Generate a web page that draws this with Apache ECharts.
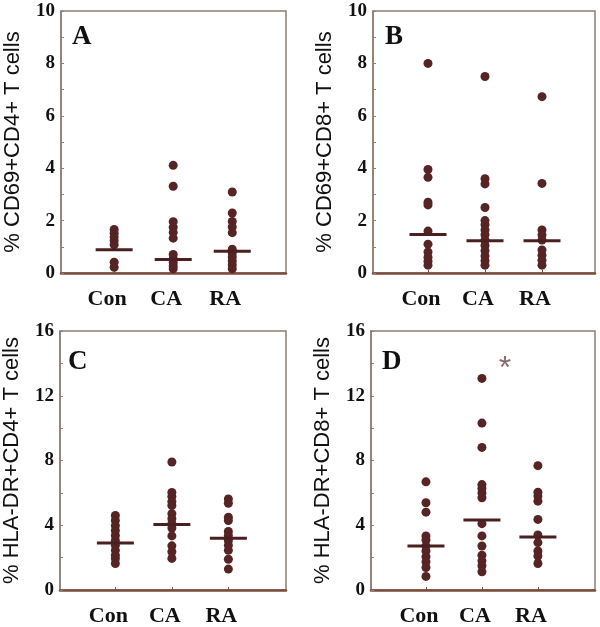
<!DOCTYPE html>
<html>
<head>
<meta charset="utf-8">
<script src="https://cdn.jsdelivr.net/npm/echarts@6/dist/echarts.min.js"></script>
<style>
html,body{margin:0;padding:0;background:#fff;}
#chart{width:600px;height:627px;}
</style>
</head>
<body>
<div id="chart"></div>
<script>
// Categories
const categories = ['Con', 'CA', 'RA'];

// Panel A: % CD69+CD4+ T cells
const aCon = [1.66, 1.52, 1.37, 1.23, 1.08, 0.41, 0.22];
const aCA  = [4.11, 3.31, 1.96, 1.75, 1.55, 1.33, 0.71, 0.55, 0.40, 0.27, 0.16];
const aRA  = [3.09, 2.29, 1.97, 1.76, 1.54, 0.91, 0.76, 0.61, 0.46, 0.31, 0.16];
const aMedians = [0.89, 0.52, 0.83];

// Panel B: % CD69+CD8+ T cells
const bCon = [8.0, 3.95, 3.65, 2.7, 2.6, 1.6, 1.1, 0.8, 0.6, 0.45, 0.3];
const bCA  = [7.5, 3.6, 3.4, 2.5, 2.0, 1.84, 1.64, 1.46, 1.25, 1.05, 0.85, 0.65, 0.47, 0.3];
const bRA  = [6.73, 3.42, 1.64, 1.45, 1.26, 0.88, 0.68, 0.49, 0.3];
const bMedians = [1.47, 1.23, 1.23];

// Panel C: % HLA-DR+CD4+ T cells
const cCon = [4.6, 4.29, 3.98, 3.68, 3.37, 3.06, 2.76, 2.45, 2.15, 1.94, 1.64];
const cCA  = [7.91, 6.03, 5.77, 5.46, 5.22, 4.71, 4.4, 4.1, 3.83, 3.34, 2.73, 2.36, 1.95];
const cRA  = [5.62, 5.36, 4.5, 4.29, 3.62, 3.37, 3.06, 2.76, 2.45, 1.9, 1.29];
const cMedians = [2.9, 4.04, 3.2];

// Panel D: % HLA-DR+CD8+ T cells
const dCon = [6.68, 5.39, 4.81, 3.34, 3.09, 2.72, 2.41, 2.06, 1.74, 1.39, 0.84];
const dCA  = [13.07, 10.31, 8.81, 6.51, 6.27, 6.0, 5.7, 4.1, 3.34, 2.72, 2.15, 1.8, 1.5, 1.13];
const dRA  = [7.68, 6.04, 5.8, 5.49, 4.36, 3.4, 2.93, 2.41, 2.1, 1.64];
const dMedians = [2.72, 4.32, 3.28];

// Tick labels
const ticksAB = [0, 2, 4, 6, 8, 10];
const ticksCD = [0, 4, 8, 12, 16];

const panelLetters = ['A', 'B', 'C', 'D'];
const yTitles = ['% CD69+CD4+ T cells', '% CD69+CD8+ T cells', '% HLA-DR+CD4+ T cells', '% HLA-DR+CD8+ T cells'];

const DOT = '#562424';
const MED = '#4a1f1f';
const SERIF = '"Liberation Serif", "DejaVu Serif", serif';
const SANS = '"Liberation Sans", Arial, sans-serif';

const grids = [
  {left: 61, top: 11, width: 225, height: 262},
  {left: 373, top: 11, width: 222, height: 262},
  {left: 58, top: 331, width: 228, height: 261},
  {left: 371, top: 331, width: 224, height: 260}
];
const xRanges = [[0.1, 3.91], [0.035, 3.93], [0.02, 4.02], [0.018, 4.02]];
const yMax = [10, 10, 16, 16];
const yStep = [1, 1, 2, 2];
const yTicks = [ticksAB, ticksAB, ticksCD, ticksCD];
const panelData = [[aCon, aCA, aRA], [bCon, bCA, bRA], [cCon, cCA, cRA], [dCon, dCA, dRA]];
const panelMedians = [aMedians, bMedians, cMedians, dMedians];

const option = {
  animation: false,
  backgroundColor: '#fff',
  grid: grids.map(g => Object.assign({show: true, borderColor: '#8f7d72', borderWidth: 1.5, backgroundColor: 'transparent'}, g)),
  xAxis: grids.map((g, i) => ({
    type: 'value', gridIndex: i, min: xRanges[i][0], max: xRanges[i][1],
    axisLine: {show: true, onZero: false, lineStyle: {color: '#7b4b3b', width: 2.5}},
    axisTick: {show: true, inside: true, length: 3, customValues: [1, 2, 3], lineStyle: {color: '#7b4b3b', width: 1}},
    axisLabel: {show: true, customValues: [1, 2, 3], margin: 15, padding: [0, 14, 0, 0],
      formatter: v => categories[Math.round(v) - 1] || '',
      fontFamily: SERIF, fontWeight: 'bold', fontSize: 22, color: '#111'},
    splitLine: {show: false}
  })),
  yAxis: grids.map((g, i) => {
    const vals = [];
    for (let v = 0; v <= yMax[i]; v += yStep[i]) vals.push(v);
    return {
      type: 'value', gridIndex: i, min: 0, max: yMax[i],
      name: yTitles[i], nameLocation: 'middle', nameGap: 37, nameRotate: 90,
      nameTextStyle: {fontFamily: SANS, fontSize: 22, color: '#111'},
      axisLine: {show: true, lineStyle: {color: '#8f7d72', width: 1.5}},
      axisTick: {show: true, inside: true, length: 3, customValues: vals, lineStyle: {color: '#8f7d72'}},
      axisLabel: {show: true, customValues: yTicks[i], margin: 6,
        fontFamily: SERIF, fontWeight: 'bold', fontSize: 19, color: '#111'},
      splitLine: {show: false}
    };
  }),
  title: grids.map((g, i) => ({
    text: panelLetters[i],
    left: [72, 385, 68, 382][i],
    top: [24, 24, 349, 349][i],
    padding: 0,
    textStyle: {fontFamily: SERIF, fontWeight: 'bold', fontSize: 27, color: '#111'}
  })),
  series: []
};

panelData.forEach((groups, p) => {
  groups.forEach((vals, k) => {
    option.series.push({
      type: 'scatter', xAxisIndex: p, yAxisIndex: p,
      symbol: 'circle', symbolSize: 9,
      itemStyle: {color: DOT, opacity: 1},
      data: vals.map(v => [k + 1, v]),
      z: 2
    });
  });
  option.series.push({
    type: 'scatter', xAxisIndex: p, yAxisIndex: p,
    symbol: 'rect', symbolSize: [37, 3],
    itemStyle: {color: MED, opacity: 1},
    data: panelMedians[p].map((v, k) => [k + 1, v]),
    z: 3
  });
});

// significance asterisk in panel D
option.series.push({
  type: 'scatter', xAxisIndex: 3, yAxisIndex: 3,
  symbolSize: 1, itemStyle: {color: 'rgba(0,0,0,0)'},
  label: {show: true, formatter: '*', position: 'inside', fontFamily: SANS, fontSize: 32, color: '#6a4646', offset: [0, 7]},
  data: [[2.41, 14.1]],
  z: 4
});

const chart = echarts.init(document.getElementById('chart'), null, {renderer: 'canvas'});
chart.setOption(option);
</script>
</body>
</html>
